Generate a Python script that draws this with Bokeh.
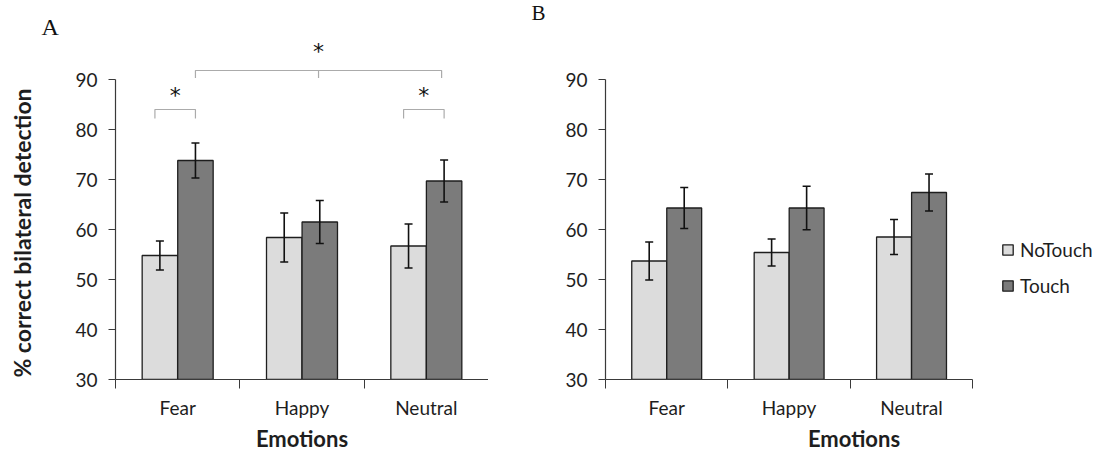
import math
from bokeh.plotting import figure
from bokeh.layouts import row
from bokeh.models import (ColumnDataSource, FixedTicker, Whisker, TeeHead,
                          Legend, LegendItem, Range1d)
from bokeh.embed import file_html
from bokeh.resources import INLINE
from bokeh.core.properties import value

# ---------------- data ----------------
emotions = ["Fear", "Happy", "Neutral"]
conditions = ["NoTouch", "Touch"]

a_notouch = [54.8, 58.4, 56.7]
a_notouch_err = [2.9, 4.9, 4.4]
a_touch = [73.8, 61.5, 69.7]
a_touch_err = [3.5, 4.3, 4.2]

b_notouch = [53.7, 55.4, 58.5]
b_notouch_err = [3.8, 2.7, 3.5]
b_touch = [64.3, 64.3, 67.4]
b_touch_err = [4.1, 4.35, 3.7]

y_ticks = [30, 40, 50, 60, 70, 80, 90]
y_label = "% correct bilateral detection"
x_label = "Emotions"
panel_letters = ["A", "B"]

# significance brackets for panel A: (emotion index, condition) pairs
sig_pairs = [((0, "NoTouch"), (0, "Touch")),
             ((2, "NoTouch"), (2, "Touch")),
             ((0, "Touch"), (2, "Touch"))]
sig_labels = ["*", "*", "*"]

# ---------------- style ----------------
NT_COLOR = "#dcdcdc"
T_COLOR = "#7b7b7b"
EDGE = "#1e1e1e"
AXIS = "#3a3a3a"
BRACKET = "#ababab"
TXT = "#1e1e1e"
FONT = "Lato"
OFFSET = 0.143
BAR_W = 0.285


def bar_x(i, cond):
    return i + 1 + (-OFFSET if cond == "NoTouch" else OFFSET)


def make_panel(nt, nt_err, t, t_err, x_end, frame_width, border_left):
    n = len(emotions)
    centers = [i + 1 for i in range(n)]
    src = ColumnDataSource(dict(
        x_nt=[c - OFFSET for c in centers],
        x_t=[c + OFFSET for c in centers],
        nt=nt, t=t,
        nt_lo=[v - e for v, e in zip(nt, nt_err)],
        nt_hi=[v + e for v, e in zip(nt, nt_err)],
        t_lo=[v - e for v, e in zip(t, t_err)],
        t_hi=[v + e for v, e in zip(t, t_err)],
    ))
    p = figure(frame_width=frame_width, frame_height=379,
               x_range=Range1d(0.5, x_end), y_range=Range1d(30, 105.8),
               output_backend="svg", toolbar_location=None,
               min_border_left=border_left, min_border_right=0,
               min_border_top=0, min_border_bottom=75,
               background_fill_color="white", border_fill_color="white")
    p.outline_line_color = None
    p.grid.visible = False

    r_nt = p.vbar(x="x_nt", top="nt", bottom=30, width=BAR_W, source=src,
                  fill_color=NT_COLOR, line_color=EDGE, line_width=1.3)
    r_t = p.vbar(x="x_t", top="t", bottom=30, width=BAR_W, source=src,
                 fill_color=T_COLOR, line_color=EDGE, line_width=1.3)

    for base, lo, hi in (("x_nt", "nt_lo", "nt_hi"), ("x_t", "t_lo", "t_hi")):
        w = Whisker(base=base, lower=lo, upper=hi, source=src, dimension="height",
                    line_color="#111111", line_width=1.6, level="annotation",
                    upper_head=TeeHead(size=8, line_color="#111111", line_width=1.6),
                    lower_head=TeeHead(size=8, line_color="#111111", line_width=1.6))
        p.add_layout(w)

    ya = p.yaxis[0]
    ya.ticker = FixedTicker(ticks=y_ticks)
    ya.bounds = (y_ticks[0], y_ticks[-1])
    ya.major_tick_in = 0
    ya.major_tick_out = 7
    ya.minor_tick_out = 0
    ya.minor_tick_in = 0
    ya.axis_line_color = AXIS
    ya.major_tick_line_color = AXIS
    ya.axis_line_width = 1.2
    ya.major_label_text_font = FONT
    ya.major_label_text_font_size = "19px"
    ya.major_label_text_color = TXT
    ya.major_label_standoff = 11

    xa = p.xaxis[0]
    xa.ticker = FixedTicker(ticks=centers,
                            minor_ticks=[c - 0.5 for c in centers] + [centers[-1] + 0.5])
    xa.bounds = (0.5, n + 0.5)
    xa.major_label_overrides = {c: e for c, e in zip(centers, emotions)}
    xa.major_tick_in = 0
    xa.major_tick_out = 0
    xa.minor_tick_in = 0
    xa.minor_tick_out = 9
    xa.axis_line_color = AXIS
    xa.minor_tick_line_color = AXIS
    xa.axis_line_width = 1.2
    xa.major_label_text_font = FONT
    xa.major_label_text_font_size = "19px"
    xa.major_label_text_color = TXT
    xa.major_label_standoff = 7
    xa.axis_label = x_label
    xa.axis_label_text_font = FONT
    xa.axis_label_text_font_style = "bold"
    xa.axis_label_text_font_size = "22px"
    xa.axis_label_text_color = TXT
    xa.axis_label_standoff = 3
    return p, r_nt, r_t


pa, _, _ = make_panel(a_notouch, a_notouch_err, a_touch, a_touch_err, 3.5, 373, 115)
pb, rb_nt, rb_t = make_panel(b_notouch, b_notouch_err, b_touch, b_touch_err, 4.56, 497, 117)

# panel letters and y-axis title (drawn on top, outside the frame)
pa.text(x=[-0.095], y=[100.6], text=[panel_letters[0]], text_align="left",
        text_baseline="alphabetic", text_font=value("Liberation Serif"),
        text_font_size="24px", text_color="#111111", level="overlay")
pb.text(x=[-0.105], y=[103.4], text=[panel_letters[1]], text_align="left",
        text_baseline="alphabetic", text_font=value("Liberation Serif"),
        text_font_size="21px", text_color="#111111", level="overlay")
pa.text(x=[-0.248], y=[59.3], text=[y_label], angle=math.pi / 2,
        text_align="center", text_baseline="middle", text_font=value(FONT),
        text_font_style="bold", text_font_size="23px", text_color=TXT, level="overlay")

# significance brackets on panel A
small_top, small_drop = 84.0, 82.2
big_top, big_drop = 91.8, 90.3
xs, ys, sx, sy = [], [], [], []
for (i1, c1), (i2, c2) in sig_pairs:
    x1 = bar_x(i1, c1) - (0.04 if c1 == "NoTouch" else 0.0)
    x2 = bar_x(i2, c2) - (0.0 if i1 == i2 else 0.02)
    if i1 == i2:
        xs.append([x1, x1, x2, x2]); ys.append([small_drop, small_top, small_top, small_drop])
        sx.append((x1 + x2) / 2); sy.append(small_top + 2.8)
    else:
        xm = (x1 + x2) / 2
        xs.append([x1, x1, x2, x2]); ys.append([big_drop, big_top, big_top, big_drop])
        xs.append([xm, xm]); ys.append([big_top, big_drop])
        sx.append(xm); sy.append(big_top + 3.9)
pa.multi_line(xs=xs, ys=ys, line_color=BRACKET, line_width=1.2)
pa.text(x=sx, y=sy, text=sig_labels, text_align="center", text_baseline="alphabetic",
        text_font=value("DejaVu Sans"), text_font_size="22px", text_color="#111111")

legend = Legend(items=[LegendItem(label=conditions[0], renderers=[rb_nt]),
                       LegendItem(label=conditions[1], renderers=[rb_t])],
                location=(396, 82), orientation="vertical",
                glyph_width=13, glyph_height=13, label_height=20,
                label_standoff=6, spacing=13, padding=0, margin=0,
                border_line_color=None, background_fill_alpha=0,
                label_text_font=FONT, label_text_font_size="19px",
                label_text_color=TXT)
pb.add_layout(legend)

layout = row(pa, pb)
open("out.html", "w").write(file_html(layout, INLINE))
